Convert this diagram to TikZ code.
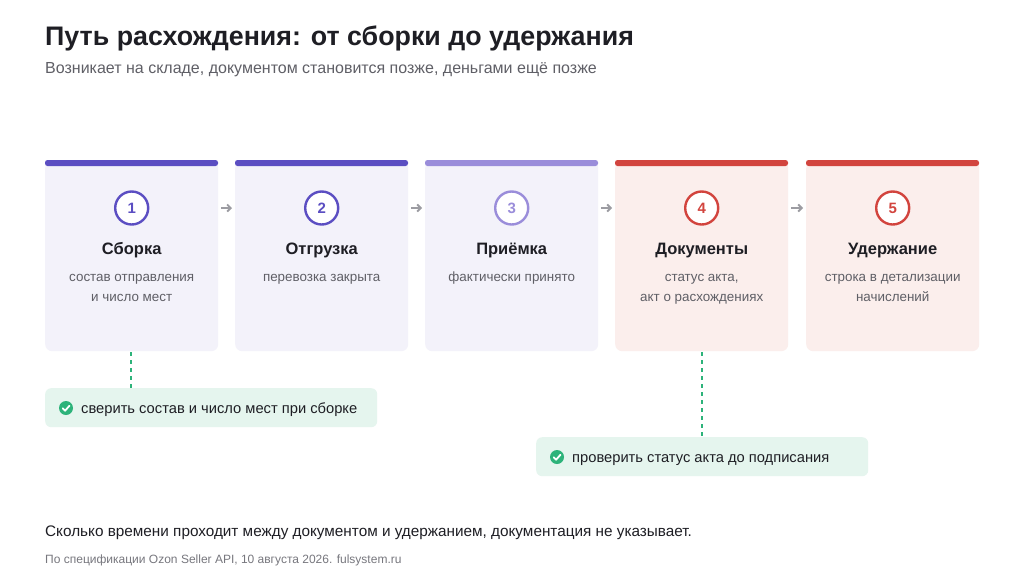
\documentclass[tikz,border=0pt]{standalone}
\usepackage{fontspec}
\setmainfont{Liberation Sans}
\usetikzlibrary{arrows.meta,calc}
\definecolor{ink}{HTML}{1E1E24}
\definecolor{muted}{HTML}{5F5F66}
\definecolor{faint}{HTML}{77777E}
\definecolor{pdark}{HTML}{5B4EC2}
\definecolor{plight}{HTML}{9A8DDA}
\definecolor{pbg}{HTML}{F3F2FA}
\definecolor{rdark}{HTML}{D2443E}
\definecolor{rbg}{HTML}{FBEEEC}
\definecolor{gbg}{HTML}{E5F5EE}
\definecolor{gmain}{HTML}{2DB37A}
\definecolor{arrg}{HTML}{9C9CA2}
\tikzset{
  card/.style={rounded corners=7pt, minimum width=173pt, minimum height=190pt, inner sep=0pt},
  bar/.style={rounded corners=2.5pt},
  num/.style={circle, draw, line width=2.4pt, minimum size=33pt, inner sep=0pt, font=\fontsize{15}{15}\selectfont\bfseries},
  ctitle/.style={font=\fontsize{16.5}{18}\selectfont\bfseries, text=ink, anchor=base},
  csub/.style={font=\fontsize{13.4}{19.3}\selectfont, text=muted, align=center, anchor=north, inner sep=0pt},
  arr/.style={draw=arrg, line width=1.8pt, -{Straight Barb[length=3.5pt,width=7pt]}},
  callout/.style={fill=gbg, rounded corners=6pt, minimum height=39pt, inner sep=0pt, anchor=north west},
  ctext/.style={font=\fontsize{14.7}{17}\selectfont, text=ink, anchor=base west, inner sep=0pt},
  chk/.style={circle, fill=gmain, minimum size=14pt, inner sep=0pt},
  dsh/.style={draw=gmain, line width=2pt, dash pattern=on 4pt off 4pt},
}
\begin{document}
\begin{tikzpicture}[x=1pt,y=-1pt]
\useasboundingbox[fill=white] (0,0) rectangle (1024,576);
% title
\node[anchor=base west, inner sep=0pt, font=\fontsize{26.8}{30}\selectfont\bfseries, text=ink] (title) at (45,45) {Путь расхождения: от сборки до удержания};
\node[anchor=base west, inner sep=0pt, font=\fontsize{16}{19}\selectfont, text=muted] (subtitle) at (45,73.5) {Возникает на складе, документом становится позже, деньгами ещё позже};
% cards
\foreach \i/\x/\bg/\bc/\n/\t/\s in {
  1/45/pbg/pdark/1/Сборка/{\strut состав отправления\\\strut и число мест},
  2/235/pbg/pdark/2/Отгрузка/{\strut перевозка закрыта},
  3/425/pbg/plight/3/Приёмка/{\strut фактически принято},
  4/615/rbg/rdark/4/Документы/{\strut статус акта,\\\strut акт о расхождениях},
  5/806/rbg/rdark/5/Удержание/{\strut строка в детализации\\\strut начислений}} {
  \node[card, fill=\bg, anchor=north west] (c\i) at (\x,161) {};
  \fill[\bc, bar] (\x,160) rectangle ++(173,6);
  \node[num, draw=\bc, text=\bc, fill=white] (k\i) at ($(c\i.north)+(0,47)$) {\n};
  \node[ctitle] (t\i) at ($(c\i.north)+(0,93)$) {\t};
  \node[csub] (s\i) at ($(c\i.north)+(0,107)$) {\s};
}
% arrows
\foreach \a/\b in {1/2,2/3,3/4,4/5} {
  \draw[arr] ([xshift=3pt]c\a.east |- k\a) -- ([xshift=-3pt]c\b.west |- k\b);
}
% callouts
\node[callout, minimum width=332pt] (o1) at (45,388) {};
\node[chk] (g1) at (66,408) {};
\draw[white, line width=1.8pt, line cap=round, line join=round] ($(g1)+(-3.3,0.3)$) -- ($(g1)+(-0.9,2.7)$) -- ($(g1)+(3.5,-2.3)$);
\node[ctext] (x1) at (81,413.5) {сверить состав и число мест при сборке};
\node[callout, minimum width=332pt] (o2) at (536,437) {};
\node[chk] (g2) at (557,457) {};
\draw[white, line width=1.8pt, line cap=round, line join=round] ($(g2)+(-3.3,0.3)$) -- ($(g2)+(-0.9,2.7)$) -- ($(g2)+(3.5,-2.3)$);
\node[ctext] (x2) at (572,462.5) {проверить статус акта до подписания};
% dashed links
\coordinate (d1) at (131,352);
\coordinate (d2) at (702,352);
\draw[dsh] (d1) -- (d1 |- o1.north);
\draw[dsh] (d2) -- (d2 |- o2.north);
% footer
\node[anchor=base west, inner sep=0pt, font=\fontsize{15.3}{18}\selectfont, text=ink] (foot) at (45,536.5) {Сколько времени проходит между документом и удержанием, документация не указывает.};
\node[anchor=base west, inner sep=0pt, font=\fontsize{12}{14}\selectfont, text=faint] (src) at (45,563.5) {По спецификации Ozon Seller API, 10 августа 2026. fulsystem.ru};
\end{tikzpicture}
\end{document}
